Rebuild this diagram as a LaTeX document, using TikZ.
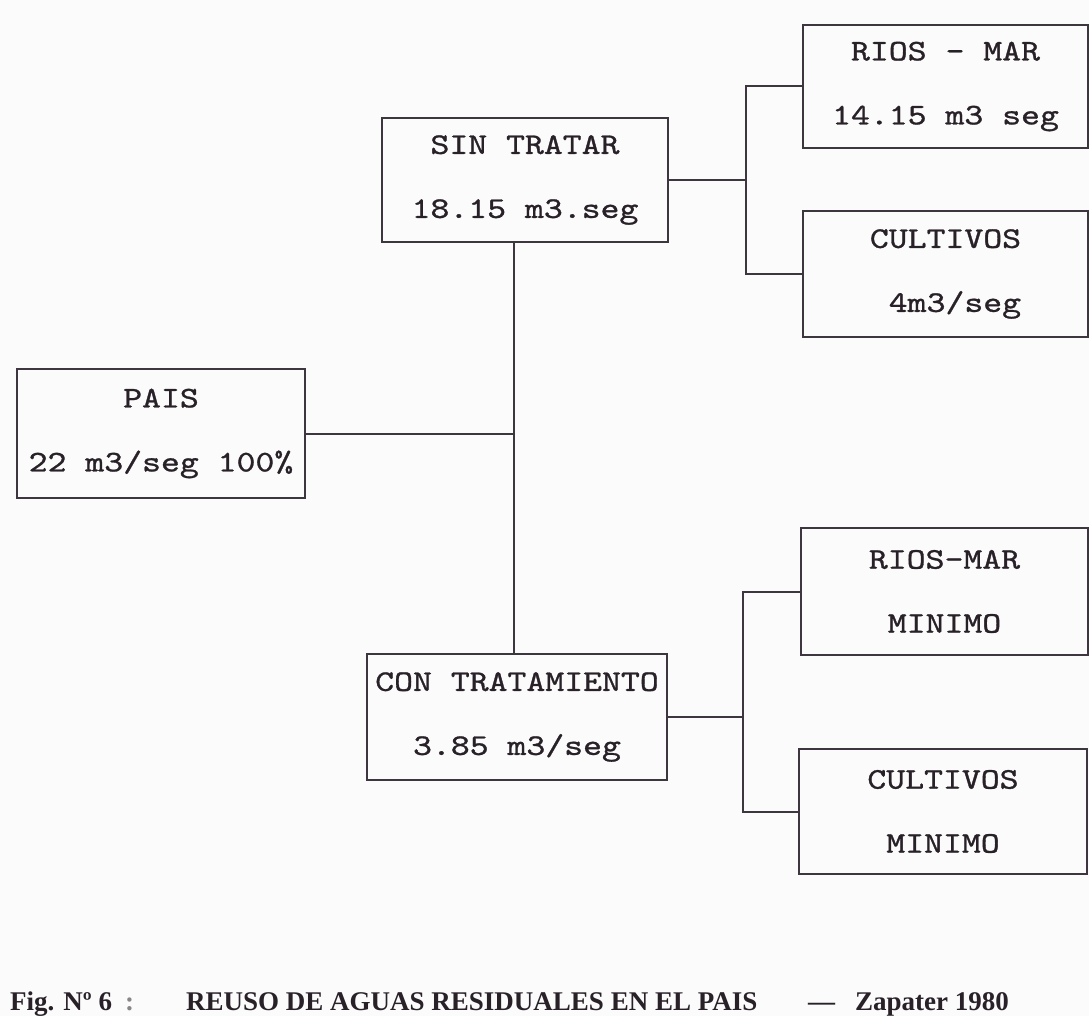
\documentclass[tikz,border=0pt]{standalone}
\usepackage{fontspec}
\newfontfamily\capfont{Liberation Serif}
\newfontfamily\boxfont{lmmono10-regular}[Extension=.otf, FakeBold=0.9]
\definecolor{paper}{RGB}{251,251,251}
\definecolor{ink}{RGB}{40,33,40}
\definecolor{rule}{RGB}{62,54,62}
% typewriter lines are widened to a Courier-like pitch
\newcommand\wideline[1]{\scalebox{1.2}[1]{#1}}
\begin{document}
\begin{tikzpicture}[x=1pt,y=-1pt,
  box/.style={draw=rule, line width=2.5pt, inner sep=0pt, align=center, text=ink,
              font=\fontsize{30}{64}\selectfont\boxfont},
  link/.style={draw=rule, line width=2pt},
  captext/.style={anchor=base west, inner sep=0pt, text=ink,
              font=\fontsize{27}{32}\selectfont\capfont\bfseries}]
\fill[paper] (0,0) rectangle (1089,1016);
\useasboundingbox (0,0) rectangle (1089,1016);

% boxes
\node[box, minimum width=288pt, minimum height=129pt] (pais) at (161,433.5)
  {\wideline{PAIS}\\\wideline{22 m3/seg 100\%}};
\node[box, minimum width=286pt, minimum height=124pt] (sin) at (525,180)
  {\wideline{SIN TRATAR}\\\wideline{18.15 m3.seg}};
\node[box, minimum width=300pt, minimum height=126pt] (con) at (517,717)
  {\wideline{CON TRATAMIENTO}\\\wideline{3.85 m3/seg}};
\node[box, minimum width=285pt, minimum height=123pt] (rmA) at (945.5,86.5)
  {\wideline{RIOS - MAR}\\\wideline{14.15 m3 seg}};
\node[box, minimum width=285pt, minimum height=126pt] (cuA) at (945.5,274)
  {\wideline{CULTIVOS}\\\wideline{\hphantom{0}4m3/seg}};
\node[box, minimum width=287pt, minimum height=127pt] (rmB) at (944.5,591.5)
  {\wideline{RIOS-MAR}\\\wideline{MINIMO}};
\node[box, minimum width=288pt, minimum height=125pt] (cuB) at (943,811.5)
  {\wideline{CULTIVOS}\\\wideline{MINIMO}};

% junction points of the tree
\coordinate (trunk) at (514,433.5);
\coordinate (forkA) at (746,0);
\coordinate (forkB) at (743,0);

% connectors
\draw[link] (pais.east) -- (trunk);
\draw[link] (sin.south -| trunk) -- (con.north -| trunk);
\draw[link] (sin.east) -- (sin.east -| forkA);
\draw[link] (rmA.west) -- (rmA.west -| forkA) -- (cuA.west -| forkA) -- (cuA.west);
\draw[link] (con.east) -- (con.east -| forkB);
\draw[link] (rmB.west) -- (rmB.west -| forkB) -- (cuB.west -| forkB) -- (cuB.west);

% caption
\node[captext] (capfig) at (10,1010) {Fig. Nº 6};
\node[captext, text=ink!55] (capcolon) at (125,1010) {:};
\node[captext] (captitle) at (186,1010) {REUSO DE AGUAS RESIDUALES EN EL PAIS};
\node[captext] (capdash) at (808,1010) {—};
\node[captext] (capauthor) at (855,1010) {Zapater 1980};
\end{tikzpicture}
\end{document}
